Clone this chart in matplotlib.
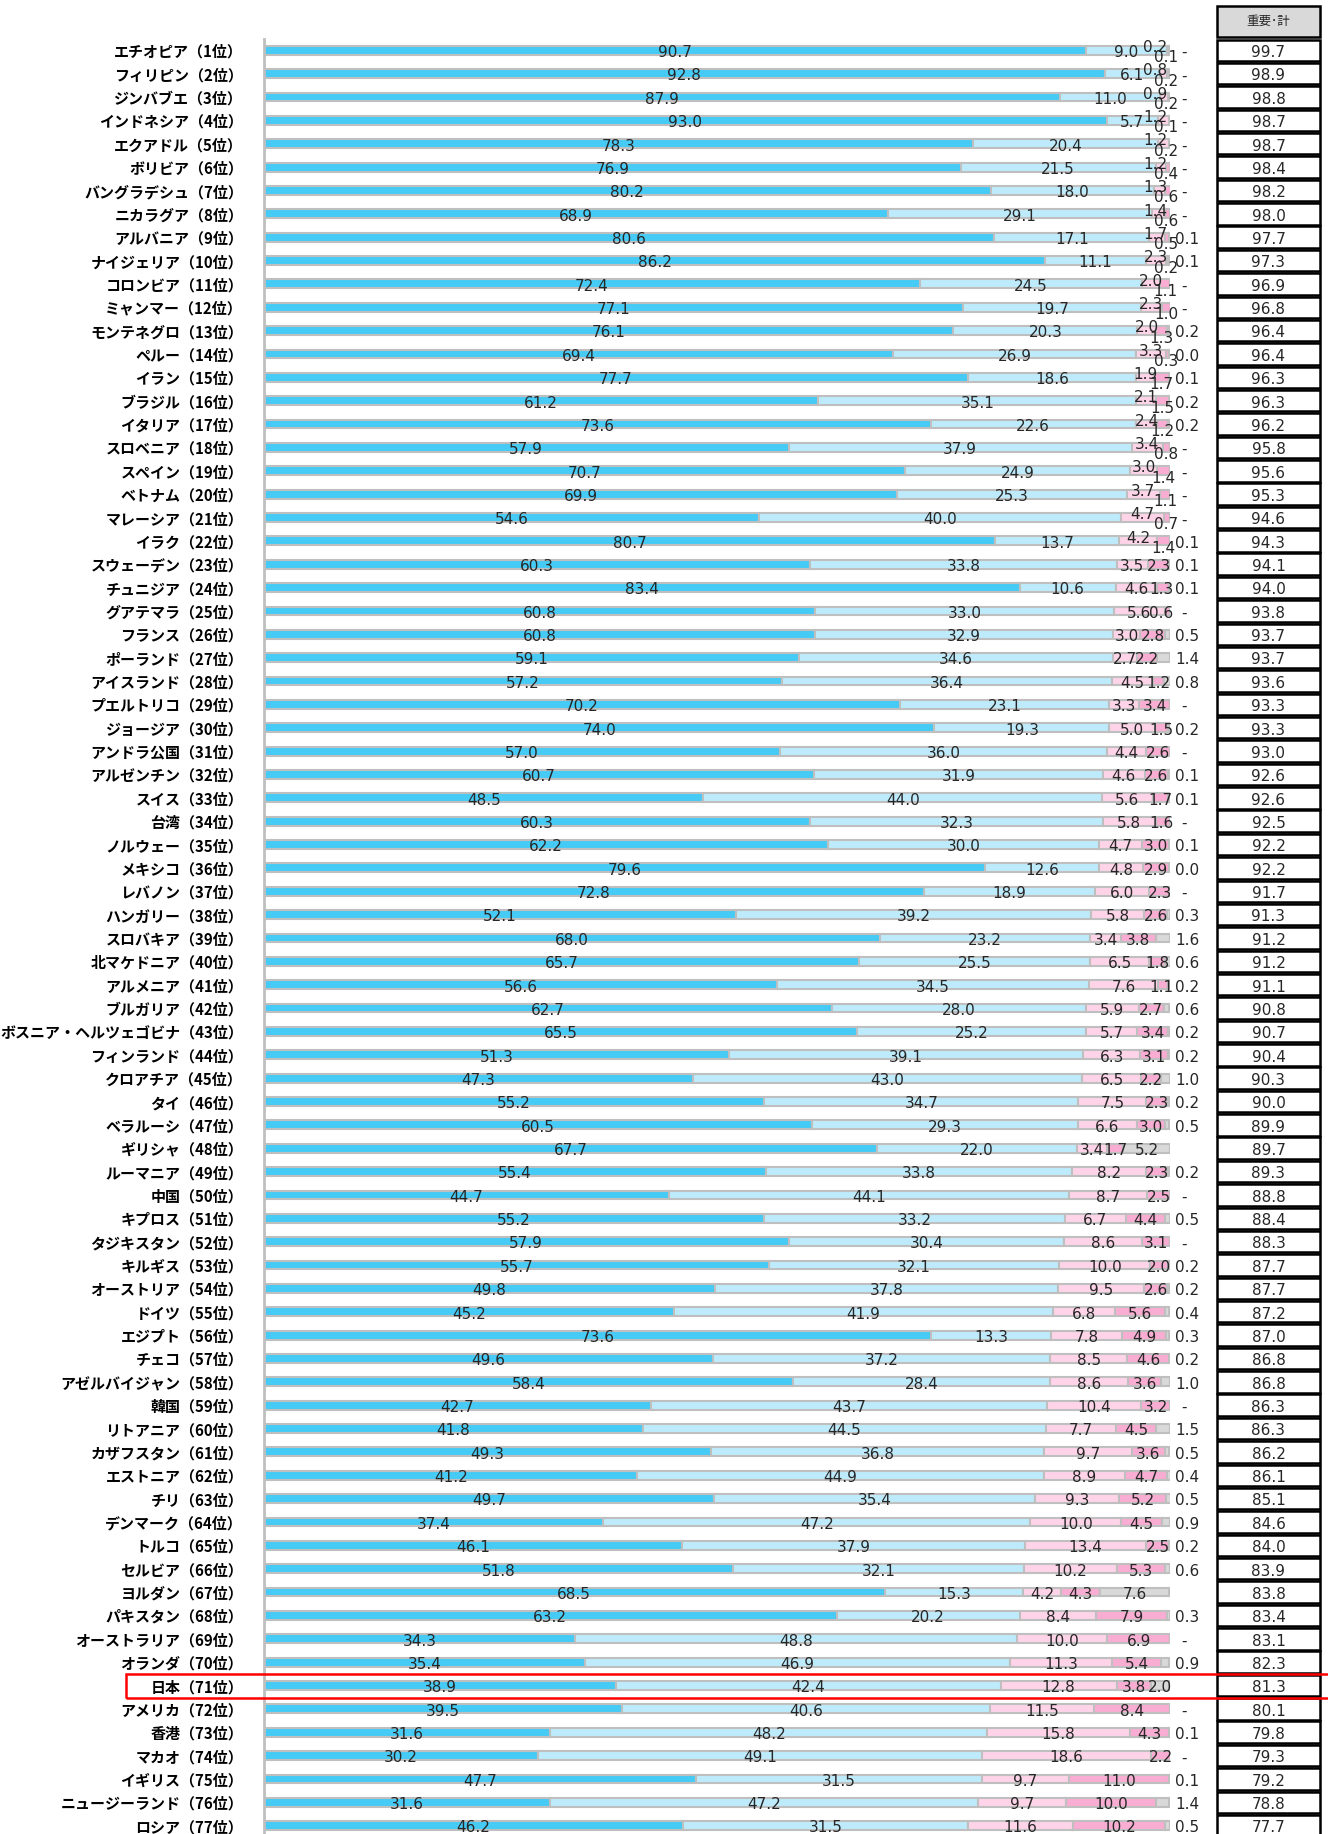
import matplotlib.pyplot as plt
import matplotlib.patches as mpatches
import numpy as np

plt.rcParams['font.family'] = ['DejaVu Sans', 'Noto Sans CJK JP']

countries = ["エチオピア", "フィリピン", "ジンバブエ", "インドネシア", "エクアドル", "ボリビア",
             "バングラデシュ", "ニカラグア", "アルバニア", "ナイジェリア", "コロンビア", "ミャンマー",
             "モンテネグロ", "ペルー", "イラン", "ブラジル", "イタリア", "スロベニア", "スペイン",
             "ベトナム", "マレーシア", "イラク", "スウェーデン", "チュニジア", "グアテマラ", "フランス",
             "ポーランド", "アイスランド", "プエルトリコ", "ジョージア", "アンドラ公国", "アルゼンチン",
             "スイス", "台湾", "ノルウェー", "メキシコ", "レバノン", "ハンガリー", "スロバキア",
             "北マケドニア", "アルメニア", "ブルガリア", "ボスニア・ヘルツェゴビナ", "フィンランド",
             "クロアチア", "タイ", "ベラルーシ", "ギリシャ", "ルーマニア", "中国", "キプロス",
             "タジキスタン", "キルギス", "オーストリア", "ドイツ", "エジプト", "チェコ",
             "アゼルバイジャン", "韓国", "リトアニア", "カザフスタン", "エストニア", "チリ",
             "デンマーク", "トルコ", "セルビア", "ヨルダン", "パキスタン", "オーストラリア", "オランダ",
             "日本", "アメリカ", "香港", "マカオ", "イギリス", "ニュージーランド", "ロシア"]

very = [90.7, 92.8, 87.9, 93.0, 78.3, 76.9, 80.2, 68.9, 80.6, 86.2, 72.4, 77.1, 76.1, 69.4, 77.7,
        61.2, 73.6, 57.9, 70.7, 69.9, 54.6, 80.7, 60.3, 83.4, 60.8, 60.8, 59.1, 57.2, 70.2, 74.0,
        57.0, 60.7, 48.5, 60.3, 62.2, 79.6, 72.8, 52.1, 68.0, 65.7, 56.6, 62.7, 65.5, 51.3, 47.3,
        55.2, 60.5, 67.7, 55.4, 44.7, 55.2, 57.9, 55.7, 49.8, 45.2, 73.6, 49.6, 58.4, 42.7, 41.8,
        49.3, 41.2, 49.7, 37.4, 46.1, 51.8, 68.5, 63.2, 34.3, 35.4, 38.9, 39.5, 31.6, 30.2, 47.7,
        31.6, 46.2]
rather = [9.0, 6.1, 11.0, 5.7, 20.4, 21.5, 18.0, 29.1, 17.1, 11.1, 24.5, 19.7, 20.3, 26.9, 18.6,
          35.1, 22.6, 37.9, 24.9, 25.3, 40.0, 13.7, 33.8, 10.6, 33.0, 32.9, 34.6, 36.4, 23.1, 19.3,
          36.0, 31.9, 44.0, 32.3, 30.0, 12.6, 18.9, 39.2, 23.2, 25.5, 34.5, 28.0, 25.2, 39.1, 43.0,
          34.7, 29.3, 22.0, 33.8, 44.1, 33.2, 30.4, 32.1, 37.8, 41.9, 13.3, 37.2, 28.4, 43.7, 44.5,
          36.8, 44.9, 35.4, 47.2, 37.9, 32.1, 15.3, 20.2, 48.8, 46.9, 42.4, 40.6, 48.2, 49.1, 31.5,
          47.2, 31.5]
not_very = [0.2, 0.8, 0.9, 1.2, 1.2, 1.2, 1.3, 1.4, 1.7, 2.3, 2.0, 2.3, 2.0, 3.3, 1.9,
            2.1, 2.4, 3.4, 3.0, 3.7, 4.7, 4.2, 3.5, 4.6, 5.6, 3.0, 2.7, 4.5, 3.3, 5.0,
            4.4, 4.6, 5.6, 5.8, 4.7, 4.8, 6.0, 5.8, 3.4, 6.5, 7.6, 5.9, 5.7, 6.3, 6.5,
            7.5, 6.6, 3.4, 8.2, 8.7, 6.7, 8.6, 10.0, 9.5, 6.8, 7.8, 8.5, 8.6, 10.4, 7.7,
            9.7, 8.9, 9.3, 10.0, 13.4, 10.2, 4.2, 8.4, 10.0, 11.3, 12.8, 11.5, 15.8, 18.6, 9.7,
            9.7, 11.6]
not_at_all = [0.1, 0.2, 0.2, 0.1, 0.2, 0.4, 0.6, 0.6, 0.5, 0.2, 1.1, 1.0, 1.3, 0.3, 1.7,
              1.5, 1.2, 0.8, 1.4, 1.1, 0.7, 1.4, 2.3, 1.3, 0.6, 2.8, 2.2, 1.2, 3.4, 1.5,
              2.6, 2.6, 1.7, 1.6, 3.0, 2.9, 2.3, 2.6, 3.8, 1.8, 1.1, 2.7, 3.4, 3.1, 2.2,
              2.3, 3.0, 1.7, 2.3, 2.5, 4.4, 3.1, 2.0, 2.6, 5.6, 4.9, 4.6, 3.6, 3.2, 4.5,
              3.6, 4.7, 5.2, 4.5, 2.5, 5.3, 4.3, 7.9, 6.9, 5.4, 3.8, 8.4, 4.3, 2.2, 11.0,
              10.0, 10.2]
dk_na = [None, None, None, None, None, None, None, None, 0.1, 0.1, None, None, 0.2, 0.0, 0.1,
         0.2, 0.2, None, None, None, None, 0.1, 0.1, 0.1, None, 0.5, 1.4, 0.8, None, 0.2,
         None, 0.1, 0.1, None, 0.1, 0.0, None, 0.3, 1.6, 0.6, 0.2, 0.6, 0.2, 0.2, 1.0,
         0.2, 0.5, 5.2, 0.2, None, 0.5, None, 0.2, 0.2, 0.4, 0.3, 0.2, 1.0, None, 1.5,
         0.5, 0.4, 0.5, 0.9, 0.2, 0.6, 7.6, 0.3, None, 0.9, 2.0, None, 0.1, None, 0.1,
         1.4, 0.5]
total = [99.7, 98.9, 98.8, 98.7, 98.7, 98.4, 98.2, 98.0, 97.7, 97.3, 96.9, 96.8, 96.4, 96.4, 96.3,
         96.3, 96.2, 95.8, 95.6, 95.3, 94.6, 94.3, 94.1, 94.0, 93.8, 93.7, 93.7, 93.6, 93.3, 93.3,
         93.0, 92.6, 92.6, 92.5, 92.2, 92.2, 91.7, 91.3, 91.2, 91.2, 91.1, 90.8, 90.7, 90.4, 90.3,
         90.0, 89.9, 89.7, 89.3, 88.8, 88.4, 88.3, 87.7, 87.7, 87.2, 87.0, 86.8, 86.8, 86.3, 86.3,
         86.2, 86.1, 85.1, 84.6, 84.0, 83.9, 83.8, 83.4, 83.1, 82.3, 81.3, 80.1, 79.8, 79.3, 79.2,
         78.8, 77.7]
header = "重要･計"
highlight = "日本"

colors = ['#45CBF6', '#BDEBFB', '#FFD4E8', '#F9ADD2', '#D9D9D9']
edge = '#BFBFBF'
txt = '#262626'

W, H = 1328, 1834
fig = plt.figure(figsize=(W / 100, H / 100), dpi=100)

row0, step = 50.3, 23.36
top_px = 38.6
ylim_top = 1 - (row0 - top_px) / step
ylim_bot = 1 + (H - row0) / step
ax = fig.add_axes([264 / W, 0, 906 / W, (H - top_px) / H])

n = len(countries)
y = np.arange(1, n + 1)
d5 = np.array([0.0 if v is None else v for v in dk_na])
series = [np.array(very), np.array(rather), np.array(not_very), np.array(not_at_all), d5]

left = np.zeros(n)
for vals, c in zip(series, colors):
    ax.barh(y, vals, left=left, height=0.38, color=c, edgecolor=edge, linewidth=1.5, zorder=2)
    left = left + vals

fs = 11
tdy = 0.1  # digits sit a little low in their box


def label(x, yy, s, ha='center'):
    ax.text(x, yy + tdy, s, ha=ha, va='center', fontsize=fs, color=txt, zorder=3)


for i in range(n):
    yy = y[i]
    a, b, c3, c4 = very[i], rather[i], not_very[i], not_at_all[i]
    v5 = dk_na[i]
    label(a / 2, yy, f"{a:.1f}")
    label(a + b / 2, yy, f"{b:.1f}")
    s3 = a + b
    s4 = s3 + c3
    dy3 = dy4 = 0
    cap4 = 99.0
    if c3 + c4 < 5.65 and c4 < 2.0 and (v5 is None or v5 < 1):
        dy3, dy4 = -0.22, 0.22
        cap4 = 99.6
    label(min(s3 + c3 / 2, 98.4), yy + dy3, f"{c3:.1f}")
    label(min(s4 + c4 / 2, cap4), yy + dy4, f"{c4:.1f}")
    end = s4 + c4
    if v5 is None:
        label(101.2, yy, "-", ha='left')
    elif v5 >= 2.0:
        label(end + v5 / 2, yy, f"{v5:.1f}")
    else:
        label(100.6, yy, f"{v5:.1f}", ha='left')

ax.set_xlim(0, 100)
ax.set_ylim(ylim_bot, ylim_top)
ax.set_xticks([])
ax.set_yticks(y)
ax.set_yticklabels([f"{c}（{k}位）" for k, c in enumerate(countries, 1)],
                   family=['Noto Sans CJK JP', 'DejaVu Sans'], fontweight='bold', fontsize=10.8)
ax.tick_params(axis='y', length=0, pad=15)
for s in ['top', 'right', 'bottom']:
    ax.spines[s].set_visible(False)
ax.spines['left'].set_color('#BFBFBF')
ax.spines['left'].set_linewidth(2)

# total column
tax = fig.add_axes([1217 / W, 0, (1320 - 1217) / W, (H - top_px) / H])
tax.set_xlim(0, 1)
tax.set_ylim(ylim_bot, ylim_top)
tax.axis('off')
for i in range(n):
    tax.add_patch(mpatches.Rectangle((0, y[i] - 0.46), 1, 0.92, facecolor='white',
                                     edgecolor='black', linewidth=1.8, clip_on=False))
    tax.text(0.5, y[i] + 0.1, f"{total[i]:.1f}", ha='center', va='center', fontsize=11, color=txt)
hy0 = ylim_top - (top_px - 6) / step
hy1 = ylim_top - (top_px - 37) / step
tax.add_patch(mpatches.Rectangle((0, hy0), 1, hy1 - hy0, facecolor='#D9D9D9',
                                 edgecolor='black', linewidth=1.8, clip_on=False))
tax.text(0.5, (hy0 + hy1) / 2, header, ha='center', va='center', fontsize=9,
         family=['Noto Sans CJK JP', 'DejaVu Sans'], color=txt, clip_on=False)

# red highlight around Japan
k = countries.index(highlight)
yc = row0 + k * step
fig.add_artist(mpatches.Rectangle((126 / W, 1 - (yc + 12) / H), (W + 10 - 126) / W, 24 / H,
                                  transform=fig.transFigure, fill=False, edgecolor='red',
                                  linewidth=1.8, zorder=10))

fig.savefig("out.png", dpi=100)
